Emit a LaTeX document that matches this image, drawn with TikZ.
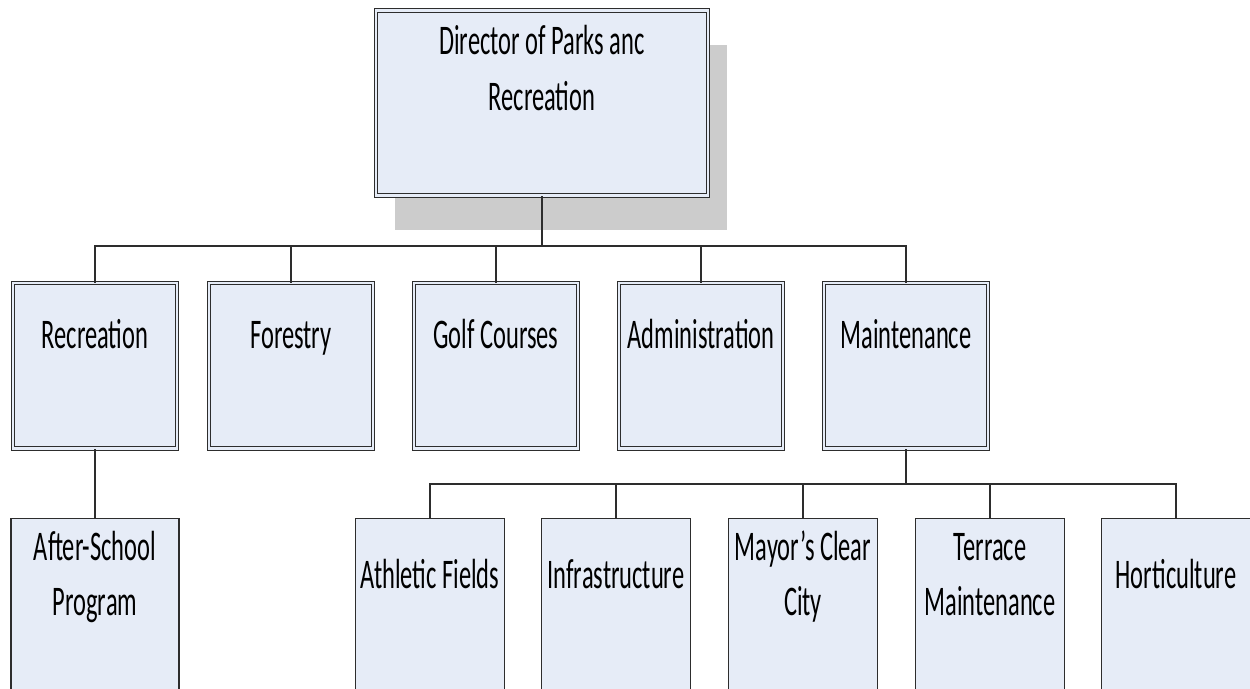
\documentclass[tikz,border=0pt]{standalone}
\usepackage{fontspec}
\setmainfont{Carlito}[FakeStretch=0.58]
\usetikzlibrary{shadows}
\definecolor{paleblue}{RGB}{230,236,247}
\definecolor{ink}{RGB}{45,45,45}
\definecolor{shade}{RGB}{204,204,204}
\newcommand{\stacked}[1]{\begin{tabular}{@{}c@{}}#1\end{tabular}}
\tikzset{
  unit/.style={draw=ink,fill=paleblue,inner sep=0pt,anchor=north,
    font=\fontsize{24}{31.5}\selectfont},
  head/.style={unit,line width=0.6pt,double=paleblue,double distance=1.6pt,
    minimum width=#1,text height=1.30cm,text depth=2.01cm},
  head/.default=3.28cm,
  sub/.style={unit,line width=0.6pt,minimum width=#1,
    text height=1.39cm,text depth=2.6cm},
  sub/.default=2.98cm,
  wire/.style={draw=ink,line width=0.8pt},
}

\begin{document}
\begin{tikzpicture}
  \useasboundingbox (0,0) rectangle (25,-13.76);
  \clip (0,0) rectangle (25,-13.76);
  \node[head=6.64cm,text height=1.44cm,text depth=2.26cm,
    drop shadow={shadow xshift=0.38cm,shadow yshift=-0.68cm,fill=shade,opacity=1}]
    (dir) at (10.84,-0.20) {\stacked{Director of Parks anc\\Recreation}};
  % departments
  \node[head] (rec) at (1.90,-5.65) {Recreation};
  \node[head] (forest) at (5.82,-5.65) {Forestry};
  \node[head] (golf) at (9.92,-5.65) {Golf Courses};
  \node[head] (admin) at (14.02,-5.65) {Administration};
  \node[head] (maint) at (18.12,-5.65) {Maintenance};
  % sections
  \node[sub=3.36cm] (after) at (1.90,-10.36) {\stacked{After-School\\Program}};
  \node[sub] (athletic) at (8.60,-10.36) {Athletic Fields};
  \node[sub] (infra) at (12.32,-10.36) {Infrastructure};
  \node[sub] (mayor) at (16.06,-10.36) {\stacked{Mayor’s Clear\\City}};
  \node[sub] (terrace) at (19.80,-10.36) {\stacked{Terrace\\Maintenance}};
  \node[sub] (horti) at (23.52,-10.36) {Horticulture};
  \coordinate (bus1) at (10.84,-4.92);
  \coordinate (bus2) at (18.12,-9.68);
  \draw[wire] (dir.south) -- (bus1);
  \foreach \n in {rec,forest,golf,admin,maint}
    \draw[wire] (bus1) -| (\n.north);
  \draw[wire] (rec.south) -- (after.north);
  \draw[wire] (maint.south) -- (bus2);
  \foreach \n in {athletic,infra,mayor,terrace,horti}
    \draw[wire] (bus2) -| (\n.north);
\end{tikzpicture}
\end{document}
